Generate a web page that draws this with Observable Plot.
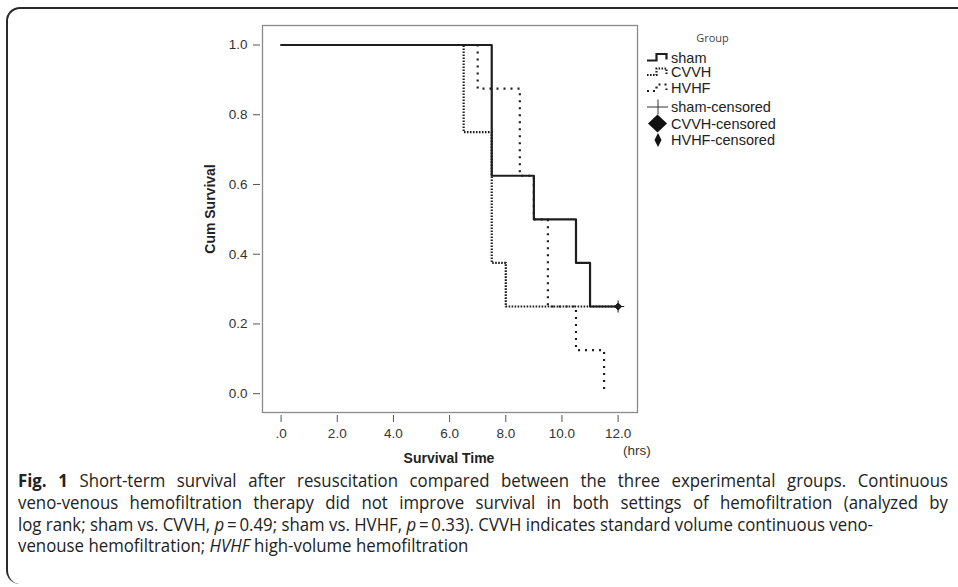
<!DOCTYPE html>
<html><head><meta charset="utf-8">
<script src="https://cdn.jsdelivr.net/npm/d3@7"></script>
<script src="https://cdn.jsdelivr.net/npm/@observablehq/plot@0.6"></script>
<style>
body{margin:0;background:#fff;width:958px;height:587px;overflow:hidden;position:relative;font-family:"Liberation Sans",Arial,sans-serif}
#box{position:absolute;left:6px;top:7px;width:990px;height:577px;border-top:2px solid #2a2a2a;border-left:2px solid #2a2a2a;border-right:none;border-bottom:none;border-top-left-radius:14px;border-bottom-left-radius:14px;box-sizing:border-box}
#chart,#overlay{position:absolute;left:0;top:0}
#caption{position:absolute;left:18px;top:470px;font-family:"Open Sans","Noto Sans",sans-serif;font-size:18px;line-height:21.8px;color:#222;transform-origin:0 0}
#caption div{white-space:nowrap}
#caption .j{text-align:justify;text-align-last:justify;white-space:normal}
</style>
</head><body>
<div id="box"></div>
<div id="chart"></div>
<svg id="overlay" width="958" height="470"></svg>
<div id="caption">
<div class="j"><b>Fig. 1</b> Short-term survival after resuscitation compared between the three experimental groups. Continuous</div>
<div class="j">veno-venous hemofiltration therapy did not improve survival in both settings of hemofiltration (analyzed by</div>
<div><span id="l3">log rank; sham vs. CVVH, <i>p</i>&#8201;=&#8201;0.49; sham vs. HVHF, <i>p</i>&#8201;=&#8201;0.33). CVVH indicates standard volume continuous veno-</span></div>
<div>venouse hemofiltration; <i>HVHF</i> high-volume hemofiltration</div>
</div>
<script>
// ---- data ----
const groups = ["sham", "CVVH", "HVHF"];
const shamTime = [0, 7.5, 9.0, 10.5, 11.0, 12.0];
const shamSurv = [1, 0.625, 0.5, 0.375, 0.25, 0.25];
const cvvhTime = [0, 6.5, 7.5, 8.0, 12.0];
const cvvhSurv = [1, 0.75, 0.375, 0.25, 0.25];
const hvhfTime = [0, 7.0, 8.5, 9.0, 9.5, 10.5, 11.5];
const hvhfSurv = [1, 0.875, 0.625, 0.5, 0.25, 0.125, 0.0];
const censorGroup = ["sham", "CVVH"];
const censorTime = [12.0, 12.0];
const censorSurv = [0.25, 0.25];
const xTicks = [0, 2, 4, 6, 8, 10, 12];
const xTickLabels = [".0", "2.0", "4.0", "6.0", "8.0", "10.0", "12.0"];
const yTicks = [0, 0.2, 0.4, 0.6, 0.8, 1.0];
const yTickLabels = ["0.0", "0.2", "0.4", "0.6", "0.8", "1.0"];
const legendLabels = ["sham", "CVVH", "HVHF", "sham-censored", "CVVH-censored", "HVHF-censored"];
const legendTitle = "Group";
const xTitle = "Survival Time";
const xUnit = "(hrs)";
const yTitle = "Cum Survival";

// ---- caption fit (condense to reference width) ----
(function () {
  const cap = document.getElementById("caption");
  const w3 = document.getElementById("l3").getBoundingClientRect().width;
  const k = 855 / w3;
  cap.style.width = (930 / k) + "px";
  cap.style.transform = `scaleX(${k})`;
})();

// ---- chart ----
const series = {
  sham: shamTime.map((t, i) => ({t, s: shamSurv[i]})),
  CVVH: cvvhTime.map((t, i) => ({t, s: cvvhSurv[i]})),
  HVHF: hvhfTime.map((t, i) => ({t, s: hvhfSurv[i]}))
};
const censored = censorTime.map((t, i) => ({t, s: censorSurv[i], g: censorGroup[i]}));
const ink = "#1e1e1e";
const font = "'Liberation Sans', Arial, sans-serif";

const chart = Plot.plot({
  width: 958,
  height: 470,
  marginLeft: 262,
  marginRight: 321,
  marginTop: 25,
  marginBottom: 58,
  style: {fontFamily: font, fontSize: "13.5px", color: "#333", background: "transparent"},
  x: {domain: [-0.662, 12.69]},
  y: {domain: [-0.054, 1.056]},
  marks: [
    Plot.frame({stroke: "#8a8a8a", strokeWidth: 1.3}),
    Plot.axisX(xTicks, {tickSize: 7, dy: 3, tickPadding: 6, tickFormat: d => xTickLabels[xTicks.indexOf(d)], label: null, stroke: "#555", fill: "#333", fontSize: 13.5, fontFamily: font}),
    Plot.axisY(yTicks, {tickSize: 7, dx: -2, tickPadding: 6, tickFormat: d => yTickLabels[yTicks.indexOf(d)], label: null, stroke: "#555", fill: "#333", fontSize: 13.5, fontFamily: font}),
    Plot.line(series.HVHF, {x: "t", y: "s", curve: "step-after", stroke: ink, strokeWidth: 2.2, strokeDasharray: "2,5", strokeLinecap: "butt"}),
    Plot.line(series.CVVH, {x: "t", y: "s", curve: "step-after", stroke: ink, strokeWidth: 2.2, strokeDasharray: "1.6,1.4", strokeLinecap: "butt"}),
    Plot.line(series.sham, {x: "t", y: "s", curve: "step-after", stroke: ink, strokeWidth: 2.2}),
    Plot.dot(censored.filter(d => d.g === "sham"), {x: "t", y: "s", symbol: "plus", r: 4, stroke: ink, strokeWidth: 1}),
    Plot.dot(censored.filter(d => d.g === "CVVH"), {x: "t", y: "s", symbol: "diamond2", r: 3.2, fill: ink, stroke: ink, strokeWidth: 1})
  ]
});
document.getElementById("chart").appendChild(chart);

// ---- axis titles & legend ----
const ov = d3.select("#overlay");
ov.append("text").attr("x", 449).attr("y", 463).attr("text-anchor", "middle")
  .attr("font-family", font).attr("font-size", 14).attr("font-weight", "bold").attr("fill", "#222").text(xTitle);
ov.append("text").attr("x", 623).attr("y", 455)
  .attr("font-family", font).attr("font-size", 13.5).attr("fill", "#333").text(xUnit);
ov.append("text").attr("transform", "translate(215,209) rotate(-90)").attr("text-anchor", "middle")
  .attr("font-family", font).attr("font-size", 14).attr("font-weight", "bold").attr("fill", "#222").text(yTitle);

ov.append("text").attr("x", 712.5).attr("y", 41.5).attr("text-anchor", "middle")
  .attr("font-family", "'Open Sans', 'Noto Sans', sans-serif").attr("font-size", 11).attr("fill", "#444").text(legendTitle);

const rowY = [57.5, 72, 88, 107, 123.5, 140];
legendLabels.forEach((lab, i) => {
  ov.append("text").attr("x", 671).attr("y", rowY[i] + 5)
    .attr("font-family", font).attr("font-size", 14.5).attr("fill", "#222").text(lab);
});
const stepPath = y => `M647,${y + 3} H656.5 V${y - 3.5} H666.5 V${y + 2}`;
const dashes = [null, "1.6,1.4", "2,4"];
[0, 1, 2].forEach(i => {
  const p = ov.append("path").attr("d", stepPath(rowY[i])).attr("fill", "none")
    .attr("stroke", ink).attr("stroke-width", 2.2);
  if (dashes[i]) p.attr("stroke-dasharray", dashes[i]);
});
// sham-censored plus
ov.append("path").attr("d", `M647,${rowY[3]} H668 M658,${rowY[3] - 7.5} V${rowY[3] + 7.5}`)
  .attr("stroke", "#333").attr("stroke-width", 1);
// CVVH-censored big diamond
ov.append("path").attr("d", `M657.5,${rowY[4] - 9} L667,${rowY[4]} L657.5,${rowY[4] + 9} L648,${rowY[4]} Z`).attr("fill", "#111");
// HVHF-censored narrow diamond
ov.append("path").attr("d", `M658,${rowY[5] - 7} L661.5,${rowY[5]} L658,${rowY[5] + 7} L654.5,${rowY[5]} Z`).attr("fill", "#111");
</script>
</body></html>
